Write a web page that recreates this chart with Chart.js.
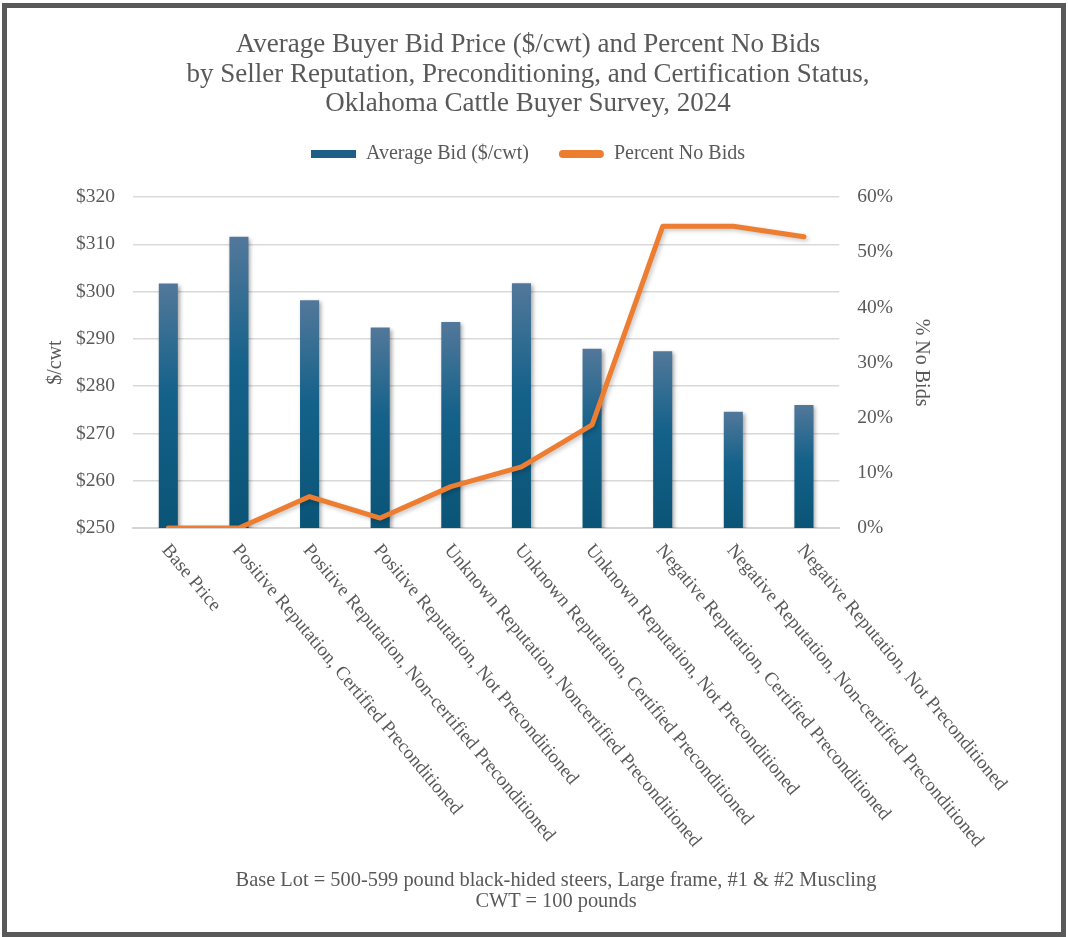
<!DOCTYPE html>
<html>
<head>
<meta charset="utf-8">
<script src="https://cdn.jsdelivr.net/npm/chart.js@4"></script>
<style>
  html, body { margin: 0; padding: 0; background: #fff; }
  #wrap { position: relative; width: 1068px; height: 937px; overflow: hidden; }
  #chart { position: absolute; left: 0; top: 0; }
  #frame {
    position: absolute; left: 2px; top: 3px; width: 1064px; height: 934px;
    box-sizing: border-box; border: 5px solid #595959; pointer-events: none;
  }
  #note {
    position: absolute; left: 0; width: 1112px; top: 869px;
    text-align: center; color: #595959;
    font: 20.4px/21px 'Liberation Serif', 'Times New Roman', serif;
  }
</style>
</head>
<body>
<div id="wrap">
  <canvas id="chart" width="1068" height="937"></canvas>
  <div id="note">Base Lot = 500-599 pound black-hided steers, Large frame, #1 &amp; #2 Muscling<br>CWT = 100 pounds</div>
  <div id="frame"></div>
</div>
<script>
const categories = [
    'Base Price',
    'Positive Reputation, Certified Preconditioned',
    'Positive Reputation, Non-certified Preconditioned',
    'Positive Reputation, Not Preconditioned',
    'Unknown Reputation, Noncertified Preconditioned',
    'Unknown Reputation, Certified Preconditioned',
    'Unknown Reputation, Not Preconditioned',
    'Negative Reputation, Certified Preconditioned',
    'Negative Reputation, Non-certified Preconditioned',
    'Negative Reputation, Not Preconditioned'
];
const avgBid = [301.7, 311.6, 298.2, 292.4, 293.6, 301.8, 287.9, 287.4, 274.6, 276.0];
const pctNoBids = [0, 0, 5.7, 1.8, 7.5, 11.1, 18.7, 54.7, 54.7, 52.8];
const titleLines = [
    'Average Buyer Bid Price ($/cwt) and Percent No Bids',
    'by Seller Reputation, Preconditioning, and Certification Status,',
    'Oklahoma Cattle Buyer Survey, 2024'
];

const FONT = "'Liberation Serif', 'Times New Roman', serif";
const GREY = '#595959';

// empty box between legend and plot
const spacer = {
    id: 'spacer',
    beforeInit(chart) {
        Chart.layouts.addBox(chart, {
            position: 'top', weight: 100, fullSize: true, options: {},
            isHorizontal: () => true,
            update(w) { this.width = w; this.height = 23; },
            draw() {}
        });
    }
};

// soft drop shadow like the office chart
const shadows = {
    id: 'shadows',
    beforeDatasetDraw(chart, args) {
        const ctx = chart.ctx;
        ctx.save();
        ctx.shadowColor = args.index === 0 ? 'rgba(0,0,0,0.35)' : 'rgba(0,0,0,0.22)';
        ctx.shadowBlur = 4;
        ctx.shadowOffsetX = 2;
        ctx.shadowOffsetY = 2;
    },
    afterDatasetDraw(chart) {
        chart.ctx.restore();
    }
};

// slanted category labels, starting at the tick and running down-right
const slantLabels = {
    id: 'slantLabels',
    afterDraw(chart) {
        const xs = chart.scales.x;
        const ctx = chart.ctx;
        ctx.save();
        ctx.font = '19px ' + FONT;
        ctx.fillStyle = GREY;
        ctx.textAlign = 'left';
        ctx.textBaseline = 'top';
        categories.forEach(function (label, i) {
            ctx.save();
            ctx.translate(xs.getPixelForTick(i) + 4, xs.top + 13);
            ctx.rotate(50 * Math.PI / 180);
            ctx.fillText(label, 0, 0);
            ctx.restore();
        });
        ctx.restore();
    }
};

function barGradient(context) {
    const chart = context.chart;
    const y = chart.scales.y;
    if (!chart.chartArea || !y || context.type !== 'data') return '#12608a';
    const top = y.getPixelForValue(context.raw);
    const bottom = y.getPixelForValue(y.min);
    const g = chart.ctx.createLinearGradient(0, top, 0, bottom);
    g.addColorStop(0, '#52789a');
    g.addColorStop(0.45, '#14618a');
    g.addColorStop(1, '#0a5476');
    return g;
}

const ctx = document.getElementById('chart').getContext('2d');
const chart = new Chart(ctx, {
    data: {
        labels: categories,
        datasets: [{
            type: 'bar',
            label: 'Average Bid ($/cwt)',
            data: avgBid,
            yAxisID: 'y',
            order: 1,
            backgroundColor: barGradient,
            barPercentage: 0.27,
            categoryPercentage: 1
        }, {
            type: 'line',
            label: 'Percent No Bids',
            data: pctNoBids,
            yAxisID: 'y1',
            order: 0,
            borderColor: '#ED7D31',
            backgroundColor: '#ED7D31',
            borderWidth: 5,
            borderJoinStyle: 'round',
            borderCapStyle: 'round',
            pointRadius: 0,
            tension: 0
        }]
    },
    options: {
        responsive: false,
        animation: false,
        layout: { padding: { left: 2, right: 14, top: 0, bottom: 10 } },
        plugins: {
            tooltip: { enabled: false },
            title: {
                display: true,
                text: titleLines,
                color: GREY,
                font: { family: FONT, size: 27, weight: 'normal', lineHeight: 1.1 },
                padding: { top: 30, bottom: -5 }
            },
            legend: {
                display: true,
                labels: {
                    color: GREY,
                    font: { family: FONT, size: 20 },
                    boxWidth: 45,
                    boxHeight: 8,
                    padding: 30,
                    useBorderRadius: true,
                    sort: (a, b) => a.datasetIndex - b.datasetIndex,
                    generateLabels(c) {
                        const items = Chart.defaults.plugins.legend.labels.generateLabels(c);
                        items.forEach(function (it) {
                            if (it.datasetIndex === 0) {
                                it.fillStyle = '#1d5f86';
                                it.strokeStyle = '#1d5f86';
                                it.lineWidth = 0;
                                it.borderRadius = 0;
                            } else {
                                it.fillStyle = '#ED7D31';
                                it.strokeStyle = '#ED7D31';
                                it.lineWidth = 0;
                                it.borderRadius = 4;
                            }
                        });
                        return items;
                    }
                }
            }
        },
        scales: {
            x: {
                grid: { display: false },
                border: { display: true, color: '#d4d4d4', width: 2 },
                ticks: { display: false },
                afterFit(scale) { scale.height = 399; }
            },
            y: {
                position: 'left',
                min: 250,
                max: 320,
                ticks: {
                    stepSize: 10,
                    padding: 18,
                    color: GREY,
                    font: { family: FONT, size: 19.5 },
                    callback: v => '$' + v
                },
                grid: { color: '#d9d9d9', lineWidth: 1.5, drawTicks: false },
                border: { display: false },
                title: {
                    display: true,
                    text: '$/cwt',
                    color: GREY,
                    font: { family: FONT, size: 20, lineHeight: 0.2 },
                    padding: { top: 52, bottom: 0 }
                }
            },
            y1: {
                position: 'right',
                min: 0,
                max: 60,
                ticks: {
                    stepSize: 10,
                    padding: 18,
                    color: GREY,
                    font: { family: FONT, size: 19.5 },
                    callback: v => v + '%'
                },
                grid: { display: false, drawTicks: false },
                border: { display: false },
                title: {
                    display: true,
                    text: '% No Bids',
                    color: GREY,
                    font: { family: FONT, size: 20, lineHeight: 0.2 },
                    padding: { top: 131, bottom: 8 }
                }
            }
        }
    },
    plugins: [spacer, shadows, slantLabels]
});
</script>
</body>
</html>
